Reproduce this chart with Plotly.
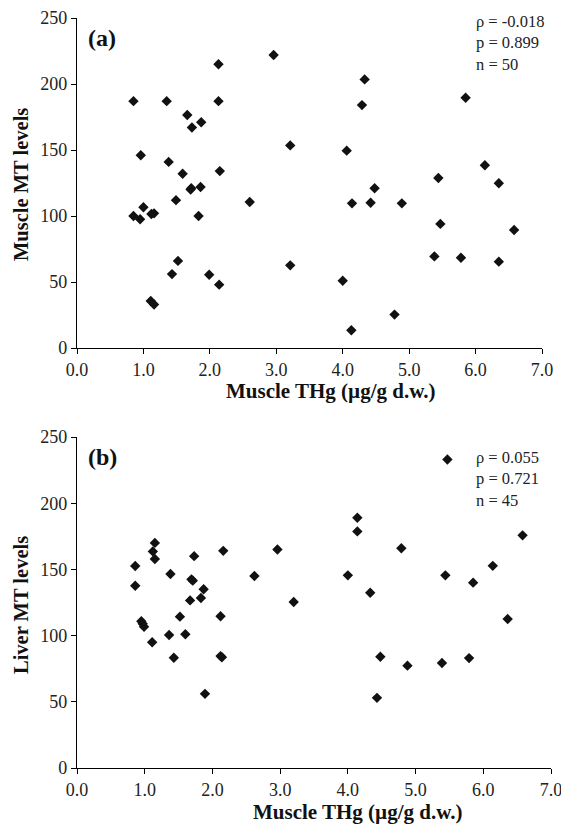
import plotly.graph_objects as go

# Panel (a): Muscle THg vs Muscle MT levels
a_thg = [0.85, 1.35, 1.66, 1.73, 1.87, 2.13, 2.13, 2.96, 0.96, 1.38, 1.59, 2.15, 3.21,
         1.71, 1.86, 0.85, 0.95, 1.00, 1.12, 1.16, 1.49, 1.83, 2.60, 1.52, 1.43, 1.99,
         2.14, 1.11, 1.16, 3.21, 4.33, 4.29, 5.85, 4.06, 6.14, 5.44, 6.35, 4.48, 4.14,
         4.42, 4.89, 5.47, 6.58, 5.38, 5.78, 6.35, 4.00, 4.78, 4.13, 1.72]
a_mt = [187, 187, 176.5, 167, 171, 215, 187, 222, 146, 141, 132, 134, 153.5,
        120, 122, 100, 97.5, 106.6, 101.5, 102, 112, 100, 110.6, 66, 56, 55.5,
        48, 35.6, 33, 62.6, 203.5, 184, 189.6, 149.5, 138.4, 128.8, 124.8, 121, 109.6,
        110, 109.6, 94, 89.4, 69.4, 68.4, 65.4, 51, 25.3, 13.4, 121]

# Panel (b): Muscle THg vs Liver MT levels
b_thg = [0.86, 1.15, 1.12, 1.15, 1.38, 1.73, 2.16, 2.62, 2.96, 1.71, 0.86, 1.87, 1.67,
         1.83, 0.95, 0.99, 0.97, 1.11, 1.36, 1.60, 1.52, 2.12, 1.43, 2.14, 2.12, 1.89,
         3.20, 5.47, 4.14, 4.14, 4.79, 6.58, 4.00, 5.44, 6.14, 5.85, 4.33, 6.36, 4.48,
         4.88, 5.39, 5.79, 4.43, 1.69]
b_mt = [152.6, 170, 163.6, 157.9, 146.5, 160, 164, 145, 165, 141.5, 137.7, 135, 126.6,
        128.4, 110.8, 106.7, 109, 95, 100.4, 101, 114.3, 114.6, 83.3, 83.6, 84.5, 56,
        125.4, 233, 189, 178.7, 166, 175.7, 145.5, 145.5, 152.7, 140, 132.4, 112.5, 84,
        77.3, 79.3, 83, 53, 142.5]

x_ticks = [0, 1, 2, 3, 4, 5, 6, 7]
x_tick_labels = ["0.0", "1.0", "2.0", "3.0", "4.0", "5.0", "6.0", "7.0"]
y_ticks = [0, 50, 100, 150, 200, 250]

stats_a = "ρ = -0.018<br>p = 0.899<br>n = 50"
stats_b = "ρ = 0.055<br>p = 0.721<br>n = 45"

# page body has an 8px margin; figure fills the remaining window
OFF = 8
W, H = 569 - OFF, 827 - OFF
FONT = "Liberation Serif"
MARK = "#111111"

fig = go.Figure()
fig.add_trace(go.Scatter(x=a_thg, y=a_mt, mode="markers", xaxis="x", yaxis="y",
                         marker=dict(symbol="diamond", size=8, color=MARK), showlegend=False))
fig.add_trace(go.Scatter(x=b_thg, y=b_mt, mode="markers", xaxis="x2", yaxis="y2",
                         marker=dict(symbol="diamond", size=8, color=MARK), showlegend=False))

def px_x(p):
    return (p - OFF) / W

def px_y(p):
    return 1 - (p - OFF) / H

common_x = dict(range=[0, 7], tickvals=x_ticks, ticktext=x_tick_labels, showline=True,
                linecolor="black", linewidth=1.2, ticks="outside", ticklen=5, tickcolor="black",
                showgrid=False, zeroline=False, automargin=False,
                tickfont=dict(family=FONT, size=18, color="#222"))
common_y = dict(range=[0, 250], tickvals=y_ticks, showline=True, linecolor="black", linewidth=1.2,
                ticks="outside", ticklen=5, tickcolor="black", showgrid=False, zeroline=False,
                automargin=False, tickfont=dict(family=FONT, size=18, color="#222"))

fig.update_layout(
    width=W, height=H, margin=dict(l=0, r=0, t=0, b=0),
    paper_bgcolor="white", plot_bgcolor="white",
    xaxis=dict(domain=[px_x(77), px_x(542)], anchor="y", **common_x),
    yaxis=dict(domain=[px_y(348), px_y(18)], anchor="x", **common_y),
    xaxis2=dict(domain=[px_x(77), px_x(551)], anchor="y2", **common_x),
    yaxis2=dict(domain=[px_y(768), px_y(437)], anchor="x2", **common_y),
)

ann = []
# x-axis titles
ann.append(dict(text="<b>Muscle THg (µg/g d.w.)</b>", x=px_x(330), y=px_y(391), xref="paper", yref="paper",
                showarrow=False, font=dict(family=FONT, size=21, color="#111"), xanchor="center", yanchor="middle"))
ann.append(dict(text="<b>Muscle THg (µg/g d.w.)</b>", x=px_x(357), y=px_y(812), xref="paper", yref="paper",
                showarrow=False, font=dict(family=FONT, size=21, color="#111"), xanchor="center", yanchor="middle"))
# y-axis titles
ann.append(dict(text="<b>Muscle MT levels</b>", x=px_x(21), y=px_y(185), xref="paper", yref="paper",
                showarrow=False, textangle=-90, font=dict(family=FONT, size=20.5, color="#111"),
                xanchor="center", yanchor="middle"))
ann.append(dict(text="<b>Liver MT levels</b>", x=px_x(21), y=px_y(605), xref="paper", yref="paper",
                showarrow=False, textangle=-90, font=dict(family=FONT, size=20.5, color="#111"),
                xanchor="center", yanchor="middle"))
# panel labels
ann.append(dict(text="<b>(a)</b>", x=px_x(86), y=px_y(38), xref="paper", yref="paper", showarrow=False,
                font=dict(family=FONT, size=24, color="#111"), xanchor="left", yanchor="middle"))
ann.append(dict(text="<b>(b)</b>", x=px_x(86), y=px_y(457), xref="paper", yref="paper", showarrow=False,
                font=dict(family=FONT, size=24, color="#111"), xanchor="left", yanchor="middle"))
# stats
ann.append(dict(text=stats_a, x=px_x(474), y=px_y(10), xref="paper", yref="paper", showarrow=False,
                align="left", font=dict(family=FONT, size=16.5, color="#222"), xanchor="left", yanchor="top"))
ann.append(dict(text=stats_b, x=px_x(474), y=px_y(446), xref="paper", yref="paper", showarrow=False,
                align="left", font=dict(family=FONT, size=16.5, color="#222"), xanchor="left", yanchor="top"))
fig.update_layout(annotations=ann)

fig.write_html("out.html")
